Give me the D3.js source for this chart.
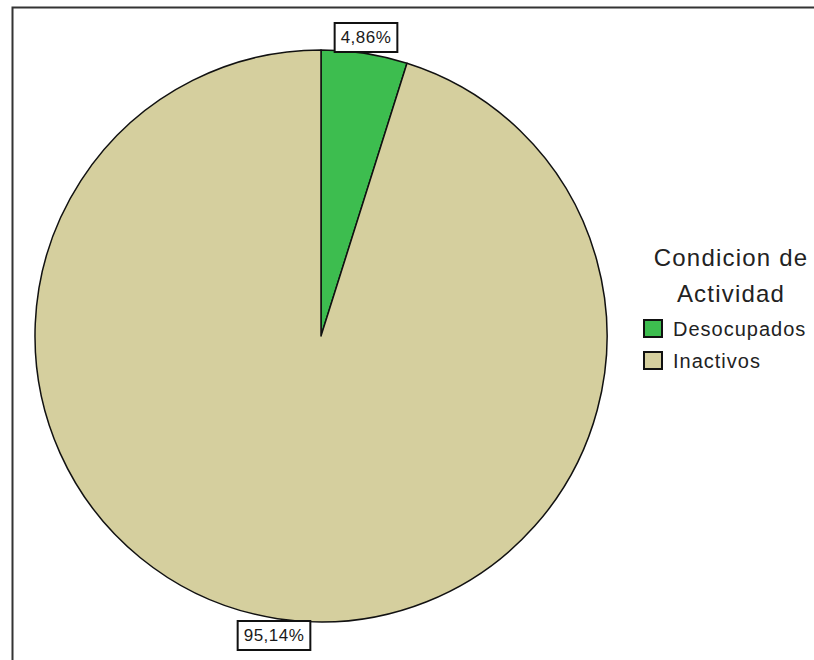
<!DOCTYPE html>
<html>
<head>
<meta charset="utf-8">
<script src="https://cdn.jsdelivr.net/npm/d3@7"></script>
<style>
  body { margin: 0; background: #fff; }
  svg { display: block; }
  text { font-family: "Liberation Sans", Arial, sans-serif; }
</style>
</head>
<body>
<svg id="chart" width="814" height="660"></svg>
<script>
// Condición de actividad: porcentaje de cada categoría
const categories = ["Desocupados", "Inactivos"];
const values = [4.86, 95.14];
const valueLabels = ["4,86%", "95,14%"];
const legendTitle = ["Condicion de", "Actividad"];
const colors = ["#3dbd4f", "#d5cf9e"];

const svg = d3.select("#chart");

// outer frame (continues past the right and bottom edges)
svg.append("path")
  .attr("d", "M12.5,700 L12.5,7.5 L900,7.5")
  .attr("fill", "none")
  .attr("stroke", "#333")
  .attr("stroke-width", 2);

const cx = 321, cy = 336, r = 286;

const color = d3.scaleOrdinal().domain(categories).range(colors);

const pie = d3.pie().sort(null).value(d => d.value);
const data = categories.map((c, i) => ({ name: c, value: values[i], label: valueLabels[i] }));
const arcs = pie(data);
const arc = d3.arc().innerRadius(0).outerRadius(r);

const g = svg.append("g").attr("transform", `translate(${cx},${cy})`);

g.selectAll("path.slice")
  .data(arcs)
  .join("path")
  .attr("class", "slice")
  .attr("d", arc)
  .attr("fill", d => color(d.data.name))
  .attr("stroke", "#111")
  .attr("stroke-width", 1.5)
  .attr("stroke-linejoin", "round");

// value labels in boxes, placed just outside the rim
const labelPos = [
  { x: 366, y: 37 },   // small slice, above the rim
  { x: 274, y: 635 }   // large slice, below the rim
];

arcs.forEach((d, i) => {
  const p = labelPos[i];
  const lg = svg.append("g").attr("transform", `translate(${p.x},${p.y})`);
  const t = lg.append("text")
    .attr("text-anchor", "middle")
    .attr("dy", "0.36em")
    .attr("font-size", 17)
    .attr("letter-spacing", 0.5)
    .attr("fill", "#1a1a1a")
    .text(d.data.label);
  const bb = t.node().getBBox();
  lg.insert("rect", "text")
    .attr("x", bb.x - 6)
    .attr("y", -14)
    .attr("width", bb.width + 12)
    .attr("height", 29)
    .attr("fill", "#fff")
    .attr("stroke", "#111")
    .attr("stroke-width", 2);
});

// legend
const leg = svg.append("g");
leg.selectAll("text.title")
  .data(legendTitle)
  .join("text")
  .attr("class", "title")
  .attr("x", 731)
  .attr("y", (d, i) => 266 + i * 36)
  .attr("text-anchor", "middle")
  .attr("font-size", 24)
  .attr("letter-spacing", 1.2)
  .attr("fill", "#222")
  .text(d => d);

const items = leg.selectAll("g.item")
  .data(categories)
  .join("g")
  .attr("class", "item")
  .attr("transform", (d, i) => `translate(644,${320 + i * 32})`);

items.append("rect")
  .attr("width", 18)
  .attr("height", 17)
  .attr("fill", d => color(d))
  .attr("stroke", "#111")
  .attr("stroke-width", 2);

items.append("text")
  .attr("x", 29)
  .attr("y", 16)
  .attr("font-size", 20)
  .attr("letter-spacing", 1)
  .attr("fill", "#222")
  .text(d => d);
</script>
</body>
</html>
